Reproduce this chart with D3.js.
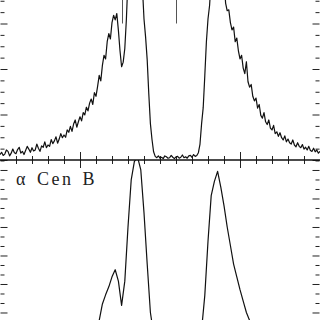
<!DOCTYPE html>
<html>
<head>
<meta charset="utf-8">
<script src="https://cdn.jsdelivr.net/npm/d3@7"></script>
<style>
  html, body { margin: 0; padding: 0; background: #fff; }
  svg { display: block; }
</style>
</head>
<body>
<svg id="chart"></svg>
<script>
// Ly-alpha profiles, alpha Cen A (top) and alpha Cen B (bottom)
// wavelength grid (Angstrom) of each spectrum
var waveStartA = 1214.5, waveStepA = 0.01;
var waveStartB = 1214.5, waveStepB = 0.02;

// flux, alpha Cen A (1 unit = one major tick)
var fluxA = [
  0.12, 0.17, 0.10, 0.13, 0.22, 0.19, 0.09, 0.15, 0.24, 0.16,
  0.14, 0.23, 0.28, 0.15, 0.19, 0.12, 0.21, 0.30, 0.24, 0.17,
  0.27, 0.20, 0.22, 0.35, 0.26, 0.19, 0.31, 0.28, 0.40, 0.27,
  0.33, 0.30, 0.45, 0.36, 0.42, 0.51, 0.37, 0.46, 0.58, 0.49,
  0.55, 0.50, 0.66, 0.61, 0.74, 0.63, 0.79, 0.88, 0.72, 0.84,
  0.95, 0.86, 1.04, 0.99, 1.16, 1.08, 1.25, 1.34, 1.22, 1.48,
  1.40, 1.62, 1.86, 1.74, 2.08, 2.30, 2.22, 2.60, 2.78, 2.66,
  3.02, 3.18, 3.08, 3.22, 2.85, 2.40, 2.05, 2.15, 2.45, 3.10,
  4.00, 5.00, 5.60, 5.90, 6.00, 5.95, 5.80, 5.50, 4.80, 3.80,
  3.10, 2.70, 2.20, 1.45, 0.80, 0.45, 0.18, 0.08, 0.05, 0.09,
  0.04, 0.06, 0.03, 0.09, 0.07, 0.04, 0.05, 0.10, 0.06, 0.03,
  0.07, 0.08, 0.04, 0.06, 0.11, 0.05, 0.07, 0.04, 0.09, 0.10,
  0.06, 0.12, 0.08, 0.10, 0.16, 0.35, 0.80, 1.15, 1.85, 2.60,
  3.10, 3.40, 4.00, 4.80, 5.40, 5.80, 6.00, 6.00, 5.70, 5.00,
  4.00, 3.45, 3.28, 3.30, 3.02, 2.86, 2.92, 2.60, 2.68, 2.40,
  2.22, 2.30, 2.02, 1.90, 2.16, 1.72, 1.60, 1.66, 1.40, 1.30,
  1.36, 1.14, 1.22, 0.98, 0.92, 1.04, 0.84, 0.78, 0.88, 0.70,
  0.66, 0.76, 0.58, 0.62, 0.52, 0.60, 0.49, 0.44, 0.53, 0.40,
  0.46, 0.38, 0.35, 0.44, 0.33, 0.29, 0.38, 0.30, 0.27, 0.34,
  0.24, 0.28, 0.22, 0.30, 0.21, 0.19, 0.26, 0.18, 0.22, 0.15,
  0.19
];

// flux, alpha Cen B
var fluxB = [
  0.12, 0.14, 0.13, 0.15, 0.16, 0.15, 0.17, 0.18, 0.19, 0.21,
  0.22, 0.24, 0.25, 0.27, 0.29, 0.31, 0.33, 0.36, 0.38, 0.41,
  0.44, 0.47, 0.50, 0.53, 0.56, 0.59, 0.62, 0.64, 0.66, 0.68,
  0.70, 0.72, 1.30, 1.62, 1.90, 2.25, 2.50, 2.10, 1.25, 2.10,
  4.00, 5.65, 6.30, 6.45, 6.00, 4.50, 2.70, 1.00, 0.25, 0.06,
  0.04, 0.05, 0.03, 0.06, 0.04, 0.05, 0.03, 0.05, 0.04, 0.06,
  0.05, 0.07, 0.10, 0.40, 1.60, 3.50, 5.10, 5.60, 5.95, 5.40,
  4.75, 4.00, 3.35, 2.70, 2.25, 1.80, 1.40, 1.00, 0.72, 0.70,
  0.66, 0.62, 0.58, 0.54, 0.50, 0.47, 0.44, 0.41, 0.38, 0.35,
  0.33, 0.30, 0.28, 0.26, 0.24, 0.22, 0.20, 0.19, 0.17, 0.16,
  0.15
];

// ISM D I and H I line positions marked in the top panel
var markers = [1215.26, 1215.60];

// tick values
var xMajor = [1215, 1216];
var xMinor = [1214.6, 1214.7, 1214.8, 1214.9, 1215.1, 1215.2, 1215.3, 1215.4, 1215.5,
              1215.6, 1215.7, 1215.8, 1215.9, 1216.1, 1216.2, 1216.3, 1216.4];
var yMajorA = [0, 1, 2, 3, 4];
var yMinorA = [0.25, 0.5, 0.75, 1.25, 1.5, 1.75, 2.25, 2.5, 2.75, 3.25, 3.5, 3.75];
var yMajorB = [0, 1, 2, 3, 4, 5, 6];
var yMinorB = [1/3, 2/3, 4/3, 5/3, 7/3, 8/3, 10/3, 11/3, 13/3, 14/3, 16/3, 17/3, 19/3];

var labels = ["\u03b1 Cen A", "\u03b1 Cen B"];

var settings = { width: 320, height: 320 };

var svg = d3.select("#chart")
    .attr("width", settings.width)
    .attr("height", settings.height);

var x = d3.scaleLinear().domain([1214.5, 1216.5]).range([0, 320]);
var yA = d3.scaleLinear().domain([0, 4]).range([160, -22]);
var yB = d3.scaleLinear().domain([0, 6.35]).range([341, 160]);

var defs = svg.append("defs");
defs.append("clipPath").attr("id", "clipA")
    .append("rect").attr("x", 0).attr("y", -40).attr("width", 320).attr("height", 200);
defs.append("clipPath").attr("id", "clipB")
    .append("rect").attr("x", 0).attr("y", 160).attr("width", 320).attr("height", 200);

function spectrum(start, step, flux) {
    return flux.map(function (f, i) { return { w: start + i * step, f: f }; });
}

// ticks drawn with d3 axes, no domain path
function ticks(g, axis, values, size) {
    g.call(axis.tickValues(values).tickSize(size).tickFormat(""))
        .call(function (s) { s.select(".domain").remove(); })
        .selectAll("line")
        .attr("stroke", "#222")
        .attr("stroke-width", 1);
}

function panel(yScale, yMajor, yMinor, isTop) {
    var g = svg.append("g");
    ticks(g.append("g").attr("transform", "translate(0.5,0)"), d3.axisRight(yScale), yMinor, 4);
    ticks(g.append("g").attr("transform", "translate(0.5,0)"), d3.axisRight(yScale), yMajor, 7);
    ticks(g.append("g").attr("transform", "translate(319.5,0)"), d3.axisLeft(yScale), yMinor, 4);
    ticks(g.append("g").attr("transform", "translate(319.5,0)"), d3.axisLeft(yScale), yMajor, 7);
    var xa = isTop ? d3.axisTop(x) : d3.axisBottom(x);
    ticks(g.append("g").attr("transform", "translate(0,160)"), xa, xMinor, 4);
    xa = isTop ? d3.axisTop(x) : d3.axisBottom(x);
    ticks(g.append("g").attr("transform", "translate(0,160)"), xa, xMajor, 8);
}

panel(yA, yMajorA, yMinorA, true);
panel(yB, yMajorB, yMinorB, false);

// shared axis line between the panels
svg.append("line")
    .attr("x1", 0).attr("x2", 320)
    .attr("y1", 160).attr("y2", 160)
    .attr("stroke", "#111")
    .attr("stroke-width", 1.5);

var lineA = d3.line().x(function (d) { return x(d.w); }).y(function (d) { return yA(d.f); });
var lineB = d3.line().x(function (d) { return x(d.w); }).y(function (d) { return yB(d.f); });

svg.append("path")
    .datum(spectrum(waveStartA, waveStepA, fluxA))
    .attr("clip-path", "url(#clipA)")
    .attr("d", lineA)
    .attr("fill", "none")
    .attr("stroke", "#111")
    .attr("stroke-width", 1.2)
    .attr("stroke-linejoin", "round");

svg.append("path")
    .datum(spectrum(waveStartB, waveStepB, fluxB))
    .attr("clip-path", "url(#clipB)")
    .attr("d", lineB)
    .attr("fill", "none")
    .attr("stroke", "#111")
    .attr("stroke-width", 1.2)
    .attr("stroke-linejoin", "round");

// line position markers
svg.append("g")
    .selectAll("line")
    .data(markers)
    .enter()
    .append("line")
    .attr("x1", function (d) { return Math.round(x(d)) + 0.5; })
    .attr("x2", function (d) { return Math.round(x(d)) + 0.5; })
    .attr("y1", yA(4))
    .attr("y2", yA(3))
    .attr("stroke", "#555")
    .attr("stroke-width", 1);

// star labels (the top one sits almost entirely above the cropped edge)
svg.append("text")
    .attr("x", 22).attr("y", 0)
    .attr("font-family", "Liberation Serif, serif")
    .attr("font-size", 18)
    .attr("letter-spacing", 2.5)
    .attr("word-spacing", 2)
    .attr("fill", "#222")
    .text(labels[0]);

svg.append("text")
    .attr("x", 16).attr("y", 185)
    .attr("font-family", "Liberation Serif, serif")
    .attr("font-size", 18)
    .attr("letter-spacing", 2.5)
    .attr("word-spacing", 2)
    .attr("fill", "#222")
    .text(labels[1]);
</script>
</body>
</html>
